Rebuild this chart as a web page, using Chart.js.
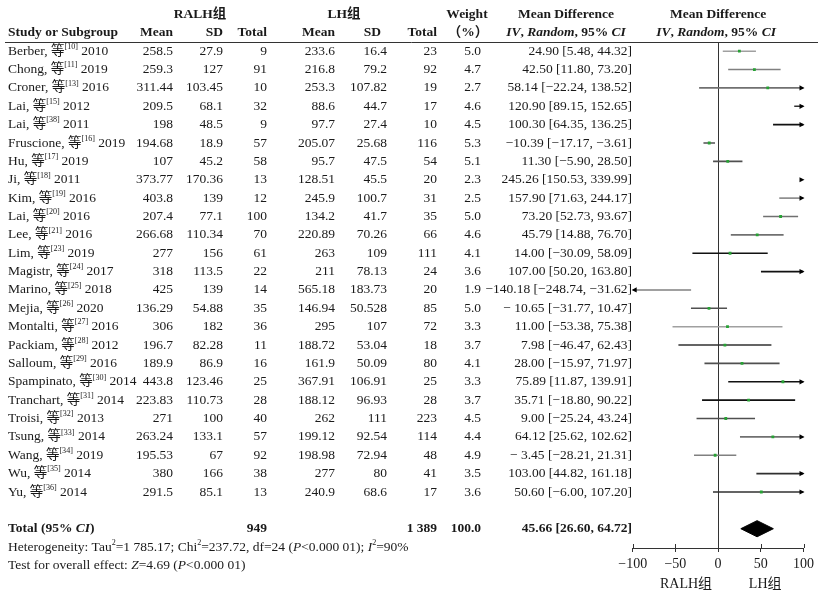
<!DOCTYPE html>
<html><head><meta charset="utf-8">
<script src="https://cdn.jsdelivr.net/npm/chart.js@4.4.0/dist/chart.umd.min.js"></script>
<style>html,body{margin:0;padding:0;background:#fff;}#wrap{width:818px;height:590px;}</style>
</head><body><div id="wrap"><canvas id="c" width="818" height="590"></canvas></div>
<script>
// ---------------- data ----------------
const studies = ["Berber","Chong","Croner","Lai","Lai","Fruscione","Hu","Ji","Kim","Lai","Lee","Lim","Magistr","Marino","Mejia","Montalti","Packiam","Salloum","Spampinato","Tranchart","Troisi","Tsung","Wang","Wu","Yu"];
const refs = ["10","11","13","15","38","16","17","18","19","20","21","23","24","25","26","27","28","29","30","31","32","33","34","35","36"];
const years = ["2010","2019","2016","2012","2011","2019","2019","2011","2016","2016","2016","2019","2017","2018","2020","2016","2012","2016","2014","2014","2013","2014","2019","2014","2014"];
const ralhMean = ["258.5","259.3","311.44","209.5","198","194.68","107","373.77","403.8","207.4","266.68","277","318","425","136.29","306","196.7","189.9","443.8","223.83","271","263.24","195.53","380","291.5"];
const ralhSD = ["27.9","127","103.45","68.1","48.5","18.9","45.2","170.36","139","77.1","110.34","156","113.5","139","54.88","182","82.28","86.9","123.46","110.73","100","133.1","67","166","85.1"];
const ralhN = ["9","91","10","32","9","57","58","13","12","100","70","61","22","14","35","36","11","16","25","28","40","57","92","38","13"];
const lhMean = ["233.6","216.8","253.3","88.6","97.7","205.07","95.7","128.51","245.9","134.2","220.89","263","211","565.18","146.94","295","188.72","161.9","367.91","188.12","262","199.12","198.98","277","240.9"];
const lhSD = ["16.4","79.2","107.82","44.7","27.4","25.68","47.5","45.5","100.7","41.7","70.26","109","78.13","183.73","50.528","107","53.04","50.09","106.91","96.93","111","92.54","72.94","80","68.6"];
const lhN = ["23","92","19","17","10","116","54","20","31","35","66","111","24","20","85","72","18","80","25","28","223","114","48","41","17"];
const weights = ["5.0","4.7","2.7","4.6","4.5","5.3","5.1","2.3","2.5","5.0","4.6","4.1","3.6","1.9","5.0","3.3","3.7","4.1","3.3","3.7","4.5","4.4","4.9","3.5","3.6"];
const md = [24.90,42.50,58.14,120.90,100.30,-10.39,11.30,245.26,157.90,73.20,45.79,14.00,107.00,-140.18,-10.65,11.00,7.98,28.00,75.89,35.71,9.00,64.12,-3.45,103.00,50.60];
const ciLow = [5.48,11.80,-22.24,89.15,64.35,-17.17,-5.90,150.53,71.63,52.73,14.88,-30.09,50.20,-248.74,-31.77,-53.38,-46.47,-15.97,11.87,-18.80,-25.24,25.62,-28.21,44.82,-6.00];
const ciHigh = [44.32,73.20,138.52,152.65,136.25,-3.61,28.50,339.99,244.17,93.67,76.70,58.09,163.80,-31.62,10.47,75.38,62.43,71.97,139.91,90.22,43.24,102.62,21.31,161.18,107.20];
const totalRalhN = "949";
const totalLhN = "1 389";
const totalWeight = "100.0";
const pooled = {md:45.66, lo:26.60, hi:64.72};
const xTicks = [-100,-50,0,50,100];

// ---------------- styles ----------------
const lineColors = ["#a0a0a0","#808080","#707070","#303030","#111","#505050","#505050","#111","#909090","#707070","#707070","#111","#111","#808080","#505050","#a0a0a0","#303030","#505050","#111","#111","#505050","#707070","#808080","#303030","#303030"];
const spacedMinus = [14,22];
const TEXT = "#1a1a1a";
const FAM = '"Liberation Serif", "Noto Sans CJK SC", serif';
const FS = 13.5;
const ROW_TOTAL = 26, ROW_HET = 27, ROW_TEST = 28;
const XMIN = -100, XMAX = 100;

const clip = v => Math.max(XMIN, Math.min(XMAX, v));
const M = "\u2212";
const f2 = v => (v < 0 ? M : "") + Math.abs(v).toFixed(2);
function mdLabel(i){
  const lead = md[i] < 0 ? (spacedMinus.includes(i) ? M + " " : M) + Math.abs(md[i]).toFixed(2) : md[i].toFixed(2);
  return lead + " [" + f2(ciLow[i]) + ", " + f2(ciHigh[i]) + "]";
}

// ---------------- datasets ----------------
const datasets = [];
studies.forEach((s,i)=>{
  const a = clip(ciLow[i]), b = clip(ciHigh[i]);
  if (a !== b) datasets.push({data:[{x:a,y:i},{x:b,y:i}], showLine:true, borderColor:lineColors[i], borderWidth:1.6, pointRadius:0, pointHoverRadius:0, order:2});
});
datasets.push({
  data: md.map((v,i)=>({x:v,y:i})).filter(p=>p.x>=XMIN && p.x<=XMAX),
  pointStyle:'rect', pointRadius:2, backgroundColor:'#27a234', borderWidth:0, showLine:false, order:0
});
const dh = 0.44;
datasets.push({
  data:[{x:pooled.lo,y:ROW_TOTAL},{x:pooled.md,y:ROW_TOTAL-dh},{x:pooled.hi,y:ROW_TOTAL},{x:pooled.md,y:ROW_TOTAL+dh},{x:pooled.lo,y:ROW_TOTAL}],
  showLine:true, fill:'shape', backgroundColor:'#000', borderColor:'#000', borderWidth:1, pointRadius:0, tension:0, order:0
});

// ---------------- plugins ----------------
function fontFor(s,size){ const sz = s.sup ? size*0.6 : size; return (s.i?'italic ':'')+(s.b?'bold ':'')+sz+'px '+FAM; }
function rich(ctx, segs, x, y, align, size){
  size = size || FS;
  let tot = 0;
  const ws = segs.map(s=>{ ctx.font = fontFor(s,size); const w = ctx.measureText(s.t).width; tot += w; return w; });
  let cx = align==='right' ? x - tot : align==='center' ? x - tot/2 : x;
  segs.forEach((s,k)=>{ ctx.font = fontFor(s,size); ctx.fillText(s.t, cx, y + (s.sup ? -size*0.32 : 0)); cx += ws[k]; });
}
function txt(ctx, t, x, y, align, bold, size){ rich(ctx, [{t:t, b:bold}], x, y, align, size); }

const COL = {name:8, rm:173, rsd:223, rn:267, lm:335, lsd:387, ln:437, w:481, md:632};

const tablePlugin = {
  id:'forestTable',
  afterDraw(chart){
    const {ctx, chartArea, scales:{x, y}} = chart;
    const Y = r => y.getPixelForValue(r);
    ctx.save();
    ctx.fillStyle = TEXT; ctx.textBaseline = 'middle'; ctx.textAlign = 'left';
    // header line
    ctx.strokeStyle = '#333'; ctx.lineWidth = 1;
    const hy = Math.round(chartArea.top) + 0.5;
    ctx.beginPath(); ctx.moveTo(5, hy); ctx.lineTo(818, hy); ctx.stroke();
    // headers
    const h1 = Y(-2), h2 = Y(-1);
    txt(ctx, "RALH组", 200, h1, 'center', true);
    txt(ctx, "LH组", 344, h1, 'center', true);
    txt(ctx, "Weight", 467, h1, 'center', true);
    txt(ctx, "Mean Difference", 566, h1, 'center', true);
    const xc = (chartArea.left + chartArea.right)/2;
    txt(ctx, "Mean Difference", xc, h1, 'center', true);
    txt(ctx, "Study or Subgroup", COL.name, h2, 'left', true);
    txt(ctx, "Mean", COL.rm, h2, 'right', true);
    txt(ctx, "SD", COL.rsd, h2, 'right', true);
    txt(ctx, "Total", COL.rn, h2, 'right', true);
    txt(ctx, "Mean", COL.lm, h2, 'right', true);
    txt(ctx, "SD", COL.lsd - 6, h2, 'right', true);
    txt(ctx, "Total", COL.ln, h2, 'right', true);
    txt(ctx, "（%）", 468, h2, 'center', true);
    const ivr = [{t:"IV",b:1,i:1},{t:", ",b:1},{t:"Random",b:1,i:1},{t:", 95% ",b:1},{t:"CI",b:1,i:1}];
    rich(ctx, ivr, 566, h2, 'center');
    rich(ctx, ivr, xc - 2, h2, 'center');
    // rows
    studies.forEach((s,i)=>{
      const yy = Y(i);
      rich(ctx, [{t:s+", 等"},{t:"["+refs[i]+"]",sup:1},{t:" "+years[i]}], COL.name, yy, 'left');
      txt(ctx, ralhMean[i], COL.rm, yy, 'right');
      txt(ctx, ralhSD[i], COL.rsd, yy, 'right');
      txt(ctx, ralhN[i], COL.rn, yy, 'right');
      txt(ctx, lhMean[i], COL.lm, yy, 'right');
      txt(ctx, lhSD[i], COL.lsd, yy, 'right');
      txt(ctx, lhN[i], COL.ln, yy, 'right');
      txt(ctx, weights[i], COL.w, yy, 'right');
      txt(ctx, mdLabel(i), COL.md, yy, 'right');
    });
    // total
    const ty = Y(ROW_TOTAL);
    rich(ctx, [{t:"Total (95% ",b:1},{t:"CI",b:1,i:1},{t:")",b:1}], COL.name, ty, 'left');
    txt(ctx, totalRalhN, COL.rn, ty, 'right', true);
    txt(ctx, totalLhN, COL.ln, ty, 'right', true);
    txt(ctx, totalWeight, COL.w, ty, 'right', true);
    txt(ctx, pooled.md.toFixed(2)+" ["+pooled.lo.toFixed(2)+", "+pooled.hi.toFixed(2)+"]", COL.md, ty, 'right', true);
    // heterogeneity
    const fs2 = 13.5;
    rich(ctx, [{t:"Heterogeneity: Tau"},{t:"2",sup:1},{t:"=1 785.17; Chi"},{t:"2",sup:1},{t:"=237.72, df=24 ("},{t:"P",i:1},{t:"<0.000 01); "},{t:"I",i:1},{t:"2",sup:1},{t:"=90%"}], COL.name, Y(ROW_HET), 'left', fs2);
    rich(ctx, [{t:"Test for overall effect: "},{t:"Z",i:1},{t:"=4.69 ("},{t:"P",i:1},{t:"<0.000 01)"}], COL.name, Y(ROW_TEST), 'left', fs2);
    // upward tick halves
    ctx.strokeStyle = '#333'; ctx.lineWidth = 1;
    xTicks.forEach(v=>{
      const px = Math.round(x.getPixelForValue(v)) + 0.5;
      ctx.beginPath(); ctx.moveTo(px, chartArea.bottom - 4); ctx.lineTo(px, chartArea.bottom); ctx.stroke();
    });
    // arrowheads
    ctx.fillStyle = '#000';
    studies.forEach((s,i)=>{
      const py = Y(i);
      if (ciHigh[i] > XMAX){
        const tx = x.getPixelForValue(XMAX) + 1;
        ctx.beginPath(); ctx.moveTo(tx, py); ctx.lineTo(tx-5, py-2.6); ctx.lineTo(tx-5, py+2.6); ctx.closePath(); ctx.fill();
      }
      if (ciLow[i] < XMIN){
        const tx = x.getPixelForValue(XMIN) - 1;
        ctx.beginPath(); ctx.moveTo(tx, py); ctx.lineTo(tx+5, py-2.6); ctx.lineTo(tx+5, py+2.6); ctx.closePath(); ctx.fill();
      }
    });
    // favours labels
    ctx.fillStyle = TEXT;
    const ly = 584;
    txt(ctx, "RALH组", x.getPixelForValue(-7), ly, 'right', false, 14);
    txt(ctx, "LH组", x.getPixelForValue(36), ly, 'left', false, 14);
    ctx.restore();
  }
};

new Chart(document.getElementById('c'), {
  type:'scatter',
  data:{datasets},
  options:{
    responsive:false, animation:false, devicePixelRatio:1,
    layout:{padding:{left:632.7, right:12.3, top:42, bottom:0}},
    plugins:{legend:{display:false}, tooltip:{enabled:false}},
    elements:{line:{tension:0}},
    scales:{
      x:{type:'linear', min:XMIN, max:XMAX, position:'bottom',
        afterBuildTicks: s => { s.ticks = xTicks.map(v=>({value:v})); },
        afterFit: s => { s.height = 42; },
        ticks:{font:{family:FAM, size:14}, color:TEXT, padding:4, maxRotation:0, autoSkip:false,
          callback: v => v < 0 ? M + Math.abs(v) : String(v)},
        grid:{drawOnChartArea:true, lineWidth:1, tickLength:4, tickColor:'#333',
          color: c => (c.tick && c.tick.value === 0) ? '#333' : 'rgba(0,0,0,0)'},
        border:{display:true, color:'#333', width:1}
      },
      y:{type:'linear', min:-0.5, max:27.05, reverse:true, display:false}
    }
  },
  plugins:[tablePlugin]
});
</script>
</body></html>
